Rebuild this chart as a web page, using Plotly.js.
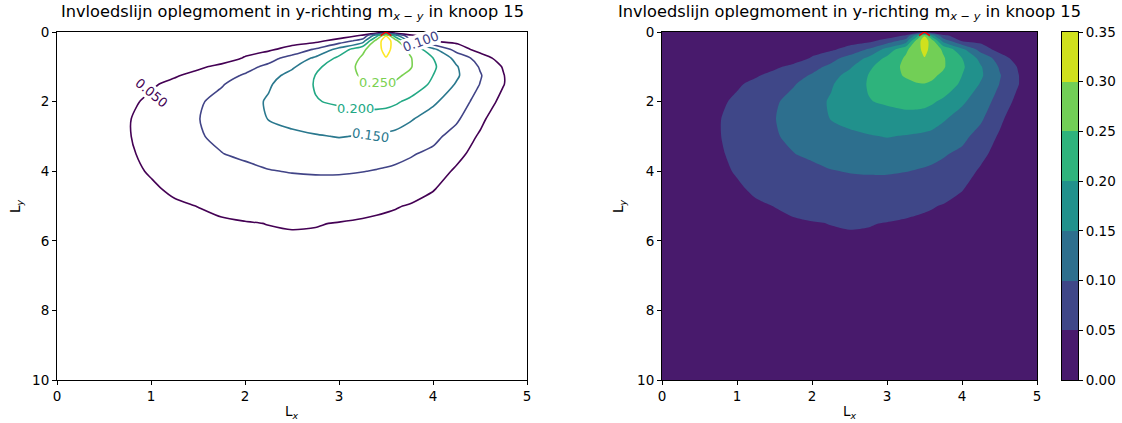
<!DOCTYPE html>
<html><head><meta charset="utf-8">
<script src="https://cdn.plot.ly/plotly-3.0.1.min.js"></script>
<style>html,body{margin:0;padding:0;background:#fff}#chart{width:1122px;height:423px}</style>
</head><body><div id="chart"></div>
<script>
// ---- data ----
const Lx = [0, 0.25, 0.5, 0.75, 1, 1.25, 1.5, 1.75, 2, 2.25, 2.5, 2.75, 3, 3.25, 3.4, 3.5, 3.6, 3.75, 4, 4.25, 4.5, 4.75, 5];
const Ly = [0, 0.1, 0.25, 0.5, 0.75, 1, 1.25, 1.5, 2, 2.5, 3, 3.5, 4, 4.5, 5, 5.5, 6, 7, 8, 10];
// influence values m_{x-y}, one row per Ly value
const mxy = [
  [0,0,0,0,0,0,0,0,0,0,0,0,0,0,0,0,0,0,0,0,0,0,0],
  [0,0.002,0.004,0.005,0.006,0.007,0.008,0.009,0.01,0.012,0.014,0.016,0.02,0.055,0.18,0.295,0.17,0.06,0.025,0.018,0.012,0.006,0],
  [0,0.003,0.006,0.009,0.011,0.013,0.015,0.017,0.02,0.024,0.028,0.035,0.07,0.12,0.27,0.33,0.27,0.13,0.045,0.035,0.025,0.013,0],
  [0,0.004,0.008,0.012,0.015,0.018,0.022,0.027,0.033,0.042,0.068,0.105,0.1675,0.24,0.283,0.315,0.283,0.2425,0.164,0.08,0.03,0.015,0],
  [0,0.004,0.008,0.011,0.014,0.017,0.02,0.024,0.054,0.083,0.117,0.158,0.211,0.256,0.27,0.298,0.27,0.255,0.2,0.135,0.077,0.025,0],
  [0,0.006,0.012,0.018,0.025,0.032,0.041,0.063,0.085,0.1105,0.143,0.188,0.232,0.258,0.266,0.27,0.266,0.255,0.208,0.154,0.096,0.046,0],
  [0,0.008,0.017,0.026,0.035,0.045,0.065,0.084,0.1045,0.133,0.165,0.201,0.2325,0.254,0.26,0.262,0.257,0.242,0.2,0.157,0.104,0.052,0],
  [0,0.011,0.022,0.033,0.044,0.062,0.079,0.0965,0.12,0.145,0.174,0.203,0.22,0.24,0.248,0.249,0.245,0.232,0.191,0.146,0.099,0.052,0],
  [0,0.014,0.028,0.0407,0.0586,0.0764,0.0943,0.114,0.134,0.1545,0.1735,0.198,0.205,0.212,0.213,0.212,0.206,0.191,0.158,0.123,0.083,0.0345,0],
  [0,0.016,0.032,0.0473,0.0644,0.0815,0.0986,0.116,0.134,0.151,0.165,0.177,0.184,0.186,0.184,0.181,0.174,0.155,0.13,0.1065,0.0625,0.012,0],
  [0,0.016,0.032,0.0474,0.0638,0.08,0.0967,0.1076,0.12,0.13,0.139,0.146,0.152,0.147,0.143,0.14,0.136,0.129,0.111,0.0835,0.0436,0.02,0],
  [0,0.015,0.03,0.0452,0.0586,0.072,0.0855,0.099,0.108,0.116,0.121,0.124,0.124,0.121,0.117,0.114,0.111,0.104,0.0915,0.062,0.032,0.016,0],
  [0,0.0145,0.029,0.043,0.0526,0.0617,0.0708,0.08,0.089,0.098,0.102,0.104,0.104,0.101,0.098,0.096,0.093,0.088,0.07,0.0437,0.028,0.014,0],
  [0,0.012,0.025,0.037,0.046,0.055,0.063,0.07,0.076,0.081,0.084,0.085,0.084,0.08,0.077,0.074,0.071,0.066,0.052,0.036,0.024,0.012,0],
  [0,0.011,0.022,0.032,0.04,0.046,0.0505,0.057,0.061,0.064,0.065,0.065,0.063,0.059,0.056,0.054,0.052,0.048,0.04,0.03,0.02,0.01,0],
  [0,0.01,0.019,0.027,0.034,0.039,0.043,0.046,0.0485,0.0505,0.052,0.0512,0.049,0.0465,0.0448,0.0435,0.042,0.039,0.033,0.025,0.017,0.0085,0],
  [0,0.009,0.017,0.024,0.03,0.035,0.039,0.042,0.0445,0.046,0.0465,0.046,0.044,0.042,0.0405,0.0395,0.038,0.035,0.03,0.023,0.015,0.0075,0],
  [0,0.007,0.013,0.019,0.024,0.028,0.031,0.033,0.035,0.036,0.036,0.036,0.035,0.033,0.032,0.031,0.03,0.028,0.024,0.018,0.012,0.006,0],
  [0,0.005,0.009,0.013,0.017,0.02,0.022,0.024,0.025,0.026,0.026,0.026,0.025,0.024,0.023,0.022,0.021,0.02,0.017,0.013,0.009,0.004,0],
  [0,0.002,0.004,0.006,0.007,0.008,0.009,0.01,0.01,0.011,0.011,0.011,0.011,0.01,0.01,0.01,0.009,0.008,0.007,0.006,0.004,0.002,0]
];
const lineLevels = [0.05, 0.10, 0.15, 0.20, 0.25, 0.30];
const fillLevels = [0, 0.05, 0.10, 0.15, 0.20, 0.25, 0.30, 0.35];
const labelLevels = [0.05, 0.10, 0.15, 0.20, 0.25];
const nodeX = [3.5];
const nodeY = [0];
const titleText = 'Invloedslijn oplegmoment in y-richting m<sub><i>x</i> − <i>y</i></sub> in knoop 15';

// ---- styling ----
const W = 1122, H = 423;
const px = v => v / W, py = v => 1 - v / H;
const FONT = 'DejaVu Sans, sans-serif';
const lineColors = ['#440154', '#414487', '#2a788e', '#22a884', '#7ad151', '#fde725'];
const bandColors = ['#481a6c', '#3f4788', '#2d6f8e', '#21918c', '#2eb37c', '#72cf56', '#d0e11d'];
const lineScale = lineColors.map((c, i) => [i / (lineColors.length - 1), c]);
const bandScale = bandColors.map((c, i) => [i / (bandColors.length - 1), c]);
const lstep = lineLevels[1] - lineLevels[0];
const bandMids = fillLevels.slice(0, -1).map((v, i) => [(v + fillLevels[i + 1]) / 2]);
const SMOOTH = 0.7;

const traces = [
  { type: 'contour', x: Lx, y: Ly, z: mxy, xaxis: 'x', yaxis: 'y',
    autocontour: false,
    contours: { start: lineLevels[0], end: lineLevels[lineLevels.length - 1], size: lstep, coloring: 'lines', showlabels: false },
    colorscale: lineScale, zauto: false, zmin: lineLevels[0], zmax: lineLevels[lineLevels.length - 1],
    line: { width: 1.6, smoothing: SMOOTH }, showscale: false, hoverinfo: 'skip' },
  { type: 'contour', x: Lx, y: Ly, z: mxy, xaxis: 'x2', yaxis: 'y2',
    autocontour: false,
    contours: { start: fillLevels[1], end: fillLevels[fillLevels.length - 2], size: lstep, coloring: 'fill', showlines: false },
    colorscale: bandScale, line: { width: 0, smoothing: SMOOTH }, showscale: false, hoverinfo: 'skip' },
  { type: 'heatmap', x: [0, 1], y: fillLevels, z: bandMids, xaxis: 'x3', yaxis: 'y3',
    colorscale: bandScale, zmin: bandMids[0][0], zmax: bandMids[bandMids.length - 1][0], showscale: false, hoverinfo: 'skip' },
  { type: 'scatter', mode: 'markers', x: nodeX, y: nodeY, xaxis: 'x', yaxis: 'y', cliponaxis: true,
    marker: { symbol: 'y-up', size: 9, color: 'red', line: { color: 'red', width: 1.5 } }, hoverinfo: 'skip' },
  { type: 'scatter', mode: 'markers', x: nodeX, y: nodeY, xaxis: 'x2', yaxis: 'y2', cliponaxis: true,
    marker: { symbol: 'y-up', size: 9, color: 'red', line: { color: 'red', width: 1.5 } }, hoverinfo: 'skip' }
];

const TS = 13.5;
const tickFont = { family: FONT, size: TS, color: '#000' };
const axBase = { showline: true, mirror: true, linecolor: '#000', linewidth: 1, ticks: 'outside', ticklen: 4,
  tickwidth: 1, tickcolor: '#000', showgrid: false, zeroline: false, tickfont: tickFont, fixedrange: true };
const yDom = [py(380), py(32)];

// contour label placement (layout only)
const labelPos = [
  { x: 1.0, y: 1.74, a: 40 },
  { x: 3.87, y: 0.26, a: -20 },
  { x: 3.34, y: 2.96, a: 8 },
  { x: 3.18, y: 2.21, a: 0 },
  { x: 3.41, y: 1.45, a: 0 }
];
const annotations = labelLevels.map((lv, i) => ({
  xref: 'x', yref: 'y', x: labelPos[i].x, y: labelPos[i].y, text: lv.toFixed(3), showarrow: false,
  textangle: labelPos[i].a, bgcolor: 'rgba(255,255,255,1)', borderpad: 0,
  font: { family: FONT, size: 13, color: lineColors[lineLevels.indexOf(lv)] }
}));
const leftC = (57 + 527) / 2, rightC = (662 + 1037) / 2;
[leftC, rightC].forEach(c => {
  annotations.push({ xref: 'paper', yref: 'paper', x: px(c), y: py(25), xanchor: 'center', yanchor: 'bottom',
    text: titleText, showarrow: false, font: { family: FONT, size: 16.2, color: '#000' } });
  annotations.push({ xref: 'paper', yref: 'paper', x: px(c), y: py(412), xanchor: 'center', yanchor: 'middle',
    text: 'L<sub><i>x</i></sub>', showarrow: false, font: { family: FONT, size: TS, color: '#000' } });
});
[16, 619].forEach(xp => {
  annotations.push({ xref: 'paper', yref: 'paper', x: px(xp), y: py(206), xanchor: 'center', yanchor: 'middle',
    text: 'L<sub><i>y</i></sub>', textangle: -90, showarrow: false, font: { family: FONT, size: TS, color: '#000' } });
});

const layout = {
  width: W, height: H, margin: { l: 0, r: 0, t: 0, b: 0 }, paper_bgcolor: '#fff', plot_bgcolor: '#fff',
  showlegend: false, font: { family: FONT, color: '#000' },
  xaxis: Object.assign({}, axBase, { domain: [px(57), px(527)], range: [0, 5], tickvals: [0, 1, 2, 3, 4, 5], anchor: 'y' }),
  yaxis: Object.assign({}, axBase, { domain: yDom, range: [10, 0], tickvals: [0, 2, 4, 6, 8, 10], anchor: 'x' }),
  xaxis2: Object.assign({}, axBase, { domain: [px(662), px(1037)], range: [0, 5], tickvals: [0, 1, 2, 3, 4, 5], anchor: 'y2' }),
  yaxis2: Object.assign({}, axBase, { domain: yDom, range: [10, 0], tickvals: [0, 2, 4, 6, 8, 10], anchor: 'x2' }),
  xaxis3: Object.assign({}, axBase, { domain: [px(1062), px(1078)], range: [0, 1], anchor: 'y3', ticks: '', showticklabels: false }),
  yaxis3: Object.assign({}, axBase, { domain: yDom, range: [0, 0.35], side: 'right', anchor: 'x3', tickvals: fillLevels, tickformat: '.2f' }),
  annotations: annotations
};

Plotly.newPlot('chart', traces, layout, { displayModeBar: false, staticPlot: true });
</script>
</body></html>
